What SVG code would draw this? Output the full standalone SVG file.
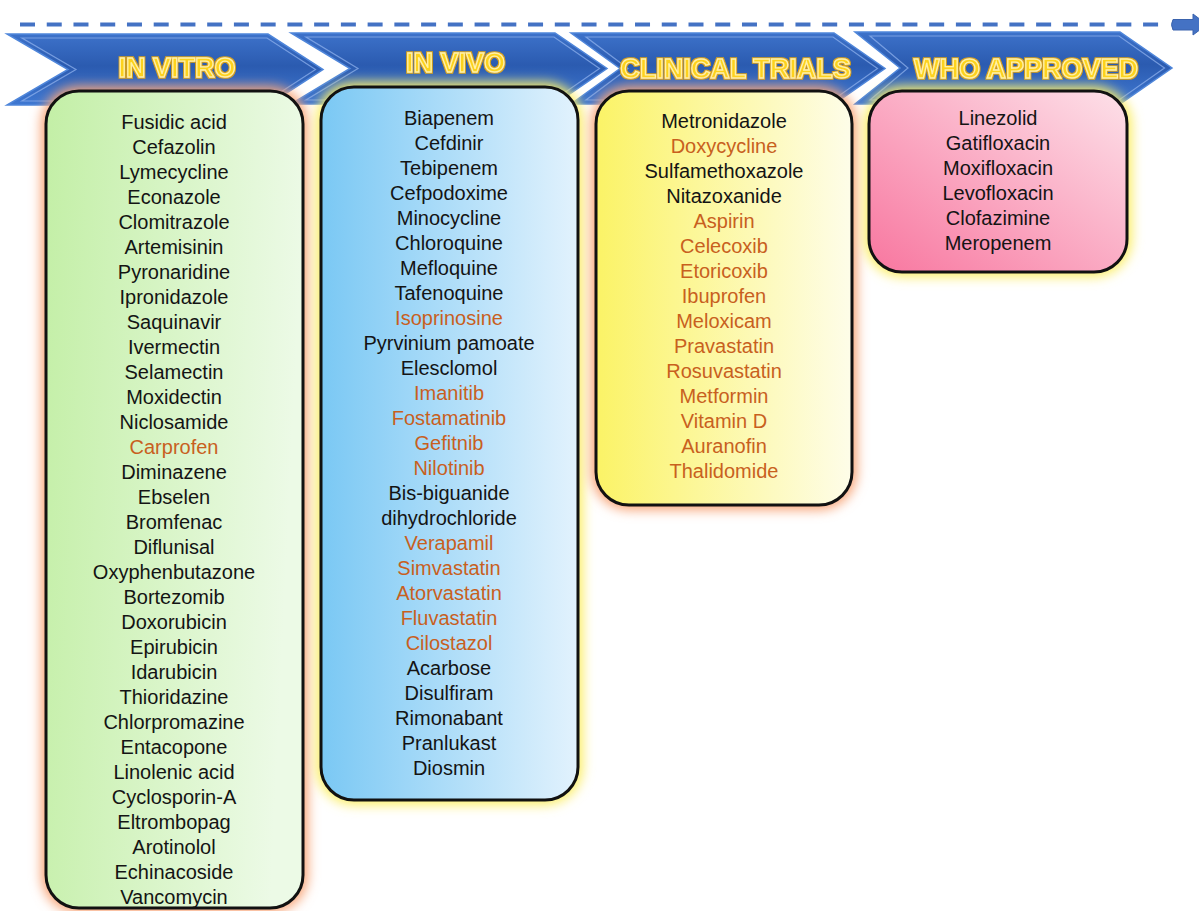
<svg xmlns="http://www.w3.org/2000/svg" width="1199" height="911" viewBox="0 0 1199 911">
<defs>
<linearGradient id="chev" x1="0" y1="0" x2="0" y2="1">
<stop offset="0" stop-color="#3d72ca"/>
<stop offset="0.45" stop-color="#2b5bb0"/>
<stop offset="1" stop-color="#3f78d2"/>
</linearGradient>
<linearGradient id="gGreen" x1="0" y1="0" x2="1" y2="0.15">
<stop offset="0" stop-color="#c3efa6"/>
<stop offset="1" stop-color="#ecfae6"/>
</linearGradient>
<linearGradient id="gBlue" x1="0" y1="0" x2="1" y2="0">
<stop offset="0" stop-color="#7ac8f4"/>
<stop offset="1" stop-color="#e2f2fd"/>
</linearGradient>
<linearGradient id="gYellow" x1="0" y1="0" x2="1" y2="0">
<stop offset="0" stop-color="#fbf366"/>
<stop offset="1" stop-color="#fefde9"/>
</linearGradient>
<linearGradient id="gPink" x1="0" y1="1" x2="1" y2="0">
<stop offset="0" stop-color="#f8769f"/>
<stop offset="1" stop-color="#fde1e9"/>
</linearGradient>
<filter id="glow" x="-20%" y="-20%" width="140%" height="140%">
<feGaussianBlur stdDeviation="6"/>
</filter>
<filter id="tt" x="-10%" y="-40%" width="120%" height="180%">
<feMorphology in="SourceAlpha" operator="dilate" radius="1" result="d"/>
<feFlood flood-color="#d9a21a"/>
<feComposite in2="d" operator="in" result="o"/>
<feGaussianBlur in="o" stdDeviation="0.4" result="ob"/>
<feMerge><feMergeNode in="ob"/><feMergeNode in="SourceGraphic"/></feMerge>
</filter>
</defs>
<style>
.chev{fill:url(#chev);stroke:#4f86da;stroke-width:1.5}
.chin{fill:none;stroke:#8db0ec;stroke-width:1.2;stroke-opacity:0.75}
.title{font-family:"Liberation Sans",Arial,sans-serif;font-weight:bold;font-size:27px;fill:#fdd21c;stroke:#fff2a8;stroke-width:1.3;text-anchor:middle}
.box{stroke:#111;stroke-width:3}
.peach{fill:#f8a477}
.yel{fill:#fbee66}
.t{font-family:"Liberation Sans",Arial,sans-serif;font-size:20px;fill:#141414;text-anchor:middle}
.o{fill:#c8601e}
.conn{fill:none;stroke:#4472c4;stroke-width:4;stroke-dasharray:15 11.74}
</style>
<rect width="1199" height="911" fill="#ffffff"/>
<g id="connectors">
<line class="conn" x1="20" y1="24.5" x2="1160" y2="24.5"/>
<path d="M1173,19.5 L1193,19.5 L1193,14 L1207,24.5 L1193,35 L1193,30 L1173,30 Q1170,24.5 1173,19.5 Z" fill="#4472c4" stroke="#3a63ad" stroke-width="1"/>
</g>
<g id="stage-in-vitro">
<polygon class="chev" points="7,34 268,34 323,69.5 268,105 7,105 68,69.5"/>
<polygon class="chin" points="22,38 267,38 315.5,69.5 267,101 22,101 76,69.5"/>
<text class="title" x="177" y="77" filter="url(#tt)">IN VITRO</text>
</g>
<g id="stage-in-vivo">
<polygon class="chev" points="291,33 555,33 607,68.5 555,104 291,104 350,68.5"/>
<polygon class="chin" points="306,37 554,37 599.5,68.5 554,100 306,100 358,68.5"/>
<text class="title" x="455.5" y="72" filter="url(#tt)">IN VIVO</text>
</g>
<g id="stage-clinical-trials">
<polygon class="chev" points="571,33 834,33 885,68.5 834,104 571,104 620,68.5"/>
<polygon class="chin" points="586,37 833,37 877.5,68.5 833,100 586,100 628,68.5"/>
<text class="title" x="735.5" y="78" filter="url(#tt)">CLINICAL TRIALS</text>
</g>
<g id="stage-who-approved">
<polygon class="chev" points="855,32 1120,32 1172,68 1120,104 855,104 900,68"/>
<polygon class="chin" points="870,36 1119,36 1164.5,68 1119,100 870,100 908,68"/>
<text class="title" x="1026" y="78" filter="url(#tt)">WHO APPROVED</text>
</g>
<g id="list-in-vitro">
<rect class="peach" x="41" y="86" width="267" height="827" rx="38" filter="url(#glow)"/>
<rect class="box" x="46" y="91" width="257" height="817" rx="33" fill="url(#gGreen)"/>
<text class="t" x="174" y="129">Fusidic acid</text>
<text class="t" x="174" y="154">Cefazolin</text>
<text class="t" x="174" y="179">Lymecycline</text>
<text class="t" x="174" y="204">Econazole</text>
<text class="t" x="174" y="229">Clomitrazole</text>
<text class="t" x="174" y="254">Artemisinin</text>
<text class="t" x="174" y="279">Pyronaridine</text>
<text class="t" x="174" y="304">Ipronidazole</text>
<text class="t" x="174" y="329">Saquinavir</text>
<text class="t" x="174" y="354">Ivermectin</text>
<text class="t" x="174" y="379">Selamectin</text>
<text class="t" x="174" y="404">Moxidectin</text>
<text class="t" x="174" y="429">Niclosamide</text>
<text class="t o" x="174" y="454">Carprofen</text>
<text class="t" x="174" y="479">Diminazene</text>
<text class="t" x="174" y="504">Ebselen</text>
<text class="t" x="174" y="529">Bromfenac</text>
<text class="t" x="174" y="554">Diflunisal</text>
<text class="t" x="174" y="579">Oxyphenbutazone</text>
<text class="t" x="174" y="604">Bortezomib</text>
<text class="t" x="174" y="629">Doxorubicin</text>
<text class="t" x="174" y="654">Epirubicin</text>
<text class="t" x="174" y="679">Idarubicin</text>
<text class="t" x="174" y="704">Thioridazine</text>
<text class="t" x="174" y="729">Chlorpromazine</text>
<text class="t" x="174" y="754">Entacopone</text>
<text class="t" x="174" y="779">Linolenic acid</text>
<text class="t" x="174" y="804">Cyclosporin-A</text>
<text class="t" x="174" y="829">Eltrombopag</text>
<text class="t" x="174" y="854">Arotinolol</text>
<text class="t" x="174" y="879">Echinacoside</text>
<text class="t" x="174" y="904">Vancomycin</text>
</g>
<g id="list-in-vivo">
<rect class="yel" x="316" y="82" width="267" height="723" rx="38" filter="url(#glow)"/>
<rect class="box" x="321" y="87" width="257" height="713" rx="33" fill="url(#gBlue)"/>
<text class="t" x="449" y="125">Biapenem</text>
<text class="t" x="449" y="150">Cefdinir</text>
<text class="t" x="449" y="175">Tebipenem</text>
<text class="t" x="449" y="200">Cefpodoxime</text>
<text class="t" x="449" y="225">Minocycline</text>
<text class="t" x="449" y="250">Chloroquine</text>
<text class="t" x="449" y="275">Mefloquine</text>
<text class="t" x="449" y="300">Tafenoquine</text>
<text class="t o" x="449" y="325">Isoprinosine</text>
<text class="t" x="449" y="350">Pyrvinium pamoate</text>
<text class="t" x="449" y="375">Elesclomol</text>
<text class="t o" x="449" y="400">Imanitib</text>
<text class="t o" x="449" y="425">Fostamatinib</text>
<text class="t o" x="449" y="450">Gefitnib</text>
<text class="t o" x="449" y="475">Nilotinib</text>
<text class="t" x="449" y="500">Bis-biguanide</text>
<text class="t" x="449" y="525">dihydrochloride</text>
<text class="t o" x="449" y="550">Verapamil</text>
<text class="t o" x="449" y="575">Simvastatin</text>
<text class="t o" x="449" y="600">Atorvastatin</text>
<text class="t o" x="449" y="625">Fluvastatin</text>
<text class="t o" x="449" y="650">Cilostazol</text>
<text class="t" x="449" y="675">Acarbose</text>
<text class="t" x="449" y="700">Disulfiram</text>
<text class="t" x="449" y="725">Rimonabant</text>
<text class="t" x="449" y="750">Pranlukast</text>
<text class="t" x="449" y="775">Diosmin</text>
</g>
<g id="list-clinical-trials">
<rect class="peach" x="591" y="86" width="266" height="424" rx="38" filter="url(#glow)"/>
<rect class="box" x="596" y="91" width="256" height="414" rx="33" fill="url(#gYellow)"/>
<text class="t" x="724" y="128.3">Metronidazole</text>
<text class="t o" x="724" y="153.3">Doxycycline</text>
<text class="t" x="724" y="178.3">Sulfamethoxazole</text>
<text class="t" x="724" y="203.3">Nitazoxanide</text>
<text class="t o" x="724" y="228.3">Aspirin</text>
<text class="t o" x="724" y="253.3">Celecoxib</text>
<text class="t o" x="724" y="278.3">Etoricoxib</text>
<text class="t o" x="724" y="303.3">Ibuprofen</text>
<text class="t o" x="724" y="328.3">Meloxicam</text>
<text class="t o" x="724" y="353.3">Pravastatin</text>
<text class="t o" x="724" y="378.3">Rosuvastatin</text>
<text class="t o" x="724" y="403.3">Metformin</text>
<text class="t o" x="724" y="428.3">Vitamin D</text>
<text class="t o" x="724" y="453.3">Auranofin</text>
<text class="t o" x="724" y="478.3">Thalidomide</text>
</g>
<g id="list-who-approved">
<rect class="yel" x="864" y="86" width="268" height="191" rx="38" filter="url(#glow)"/>
<rect class="box" x="869" y="91" width="258" height="181" rx="33" fill="url(#gPink)"/>
<text class="t" x="998" y="125">Linezolid</text>
<text class="t" x="998" y="150">Gatifloxacin</text>
<text class="t" x="998" y="175">Moxifloxacin</text>
<text class="t" x="998" y="200">Levofloxacin</text>
<text class="t" x="998" y="225">Clofazimine</text>
<text class="t" x="998" y="250">Meropenem</text>
</g>
</svg>
